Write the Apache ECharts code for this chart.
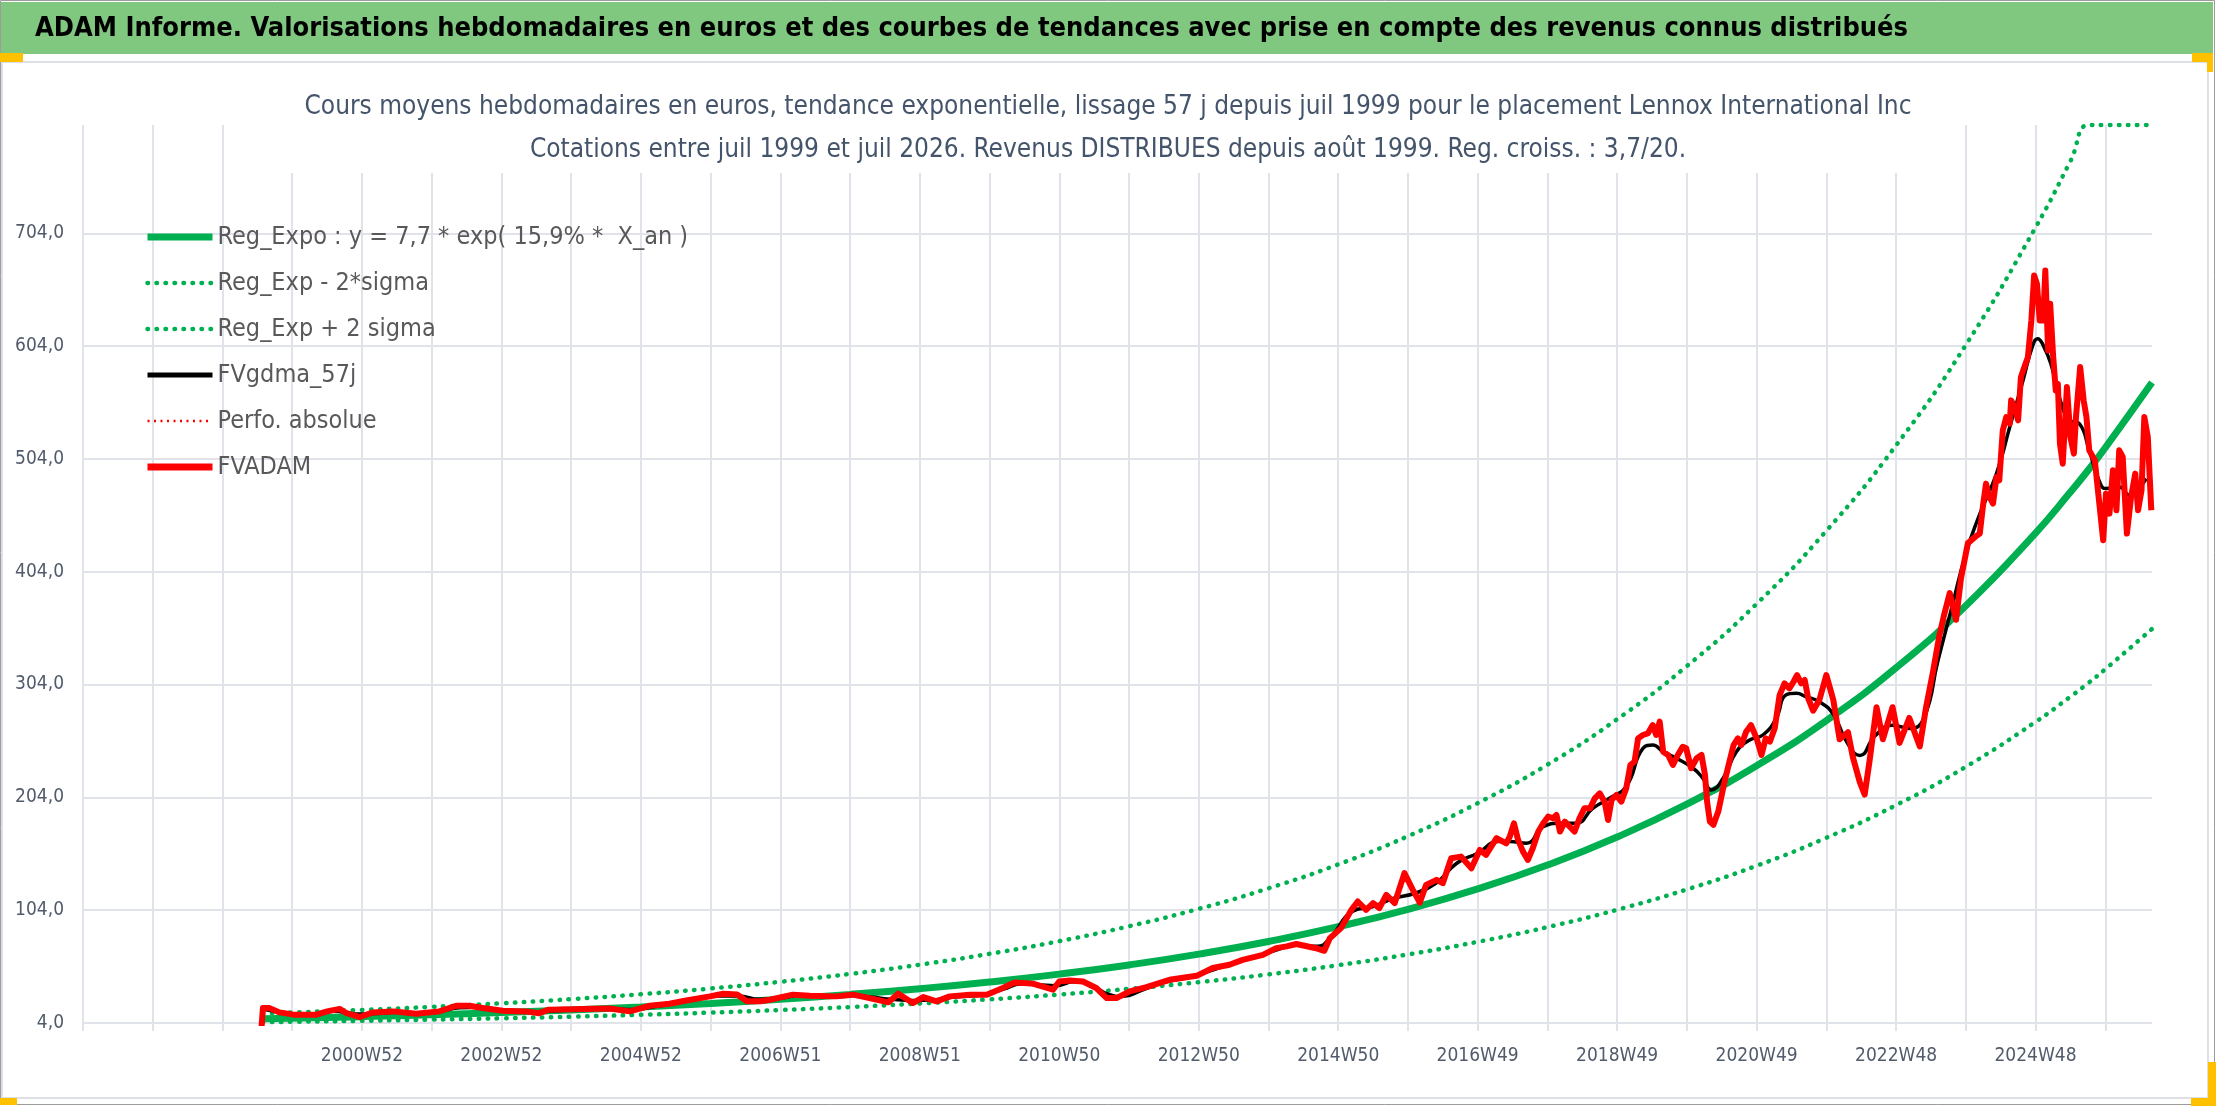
<!DOCTYPE html>
<html>
<head>
<meta charset="utf-8">
<title>ADAM Informe - Lennox International Inc</title>
<script src="https://cdn.jsdelivr.net/npm/echarts@6.0.0/dist/echarts.min.js"></script>
<style>
  html, body { margin: 0; padding: 0; background: #fff; }
  #chart { width: 2216px; height: 1106px; }
</style>
</head>
<body>
<div id="chart"></div>
<script>
var POLICE = "'Liberation Sans Narrow', 'Arial Narrow', 'DejaVu Sans Condensed', sans-serif";

// axe x en annees (une graduation = 52 semaines)
var xGridYears = [1997, 1998, 1999, 2000, 2001, 2002, 2003, 2004, 2005, 2006, 2007, 2008, 2009, 2010, 2011,
  2012, 2013, 2014, 2015, 2016, 2017, 2018, 2019, 2020, 2021, 2022, 2023, 2024, 2025, 2026];
var xLabelYears = [2001, 2003, 2005, 2007, 2009, 2011, 2013, 2015, 2017, 2019, 2021, 2023, 2025];
var xLabels = ['2000W52', '2002W52', '2004W52', '2006W51', '2008W51', '2010W50', '2012W50',
  '2014W50', '2016W49', '2018W49', '2020W49', '2022W48', '2024W48'];

var yTicks = [4, 104, 204, 304, 404, 504, 604, 704];
var yLabels = ['4,0', '104,0', '204,0', '304,0', '404,0', '504,0', '604,0', '704,0'];

// courbes de tendance
var trendYears = [1999.58, 2000, 2001, 2002, 2003, 2004, 2005, 2006, 2007, 2008, 2009, 2010, 2011, 2012,
  2013, 2014, 2015, 2016, 2017, 2018, 2019, 2020, 2021, 2022, 2023, 2024, 2025, 2025.5, 2025.76, 2026, 2026.67];
var regExpo = [7.7, 8.23, 9.65, 11.31, 13.26, 15.55, 18.23, 21.37, 25.05, 29.37, 34.43, 40.37, 47.32, 55.48,
  65.04, 76.25, 89.39, 104.8, 122.9, 144.0, 168.9, 198.0, 232.1, 272.1, 318.9, 373.9, 438.3, 474.6, 494.4, 513.9, 571.7];
var regLow = [4.76, 5.09, 5.96, 6.99, 8.19, 9.61, 11.27, 13.21, 15.48, 18.15, 21.28, 24.95, 29.24, 34.29,
  40.19, 47.12, 55.24, 64.77, 75.95, 88.99, 104.4, 122.4, 143.4, 168.2, 197.1, 231.1, 270.9, 293.3, 305.5, 317.6, 353.3];
var regHigh = [12.46, 13.32, 15.61, 18.30, 21.45, 25.16, 29.50, 34.58, 40.53, 47.52, 55.71, 65.32, 76.56, 89.77,
  105.2, 123.4, 144.6, 169.6, 198.9, 233.0, 273.3, 320.4, 375.5, 440.3, 516.0, 605.0, 709.2, 767.9, 800, 800, 800];

// FVADAM : [annee, cours]
var fvadam = [
  [1999.56, 0], [1999.58, 17.3], [1999.67, 17.3], [1999.82, 13.4], [2000.02, 11.4], [2000.35, 11.4], [2000.5, 14.3],
  [2000.68, 16.5], [2000.78, 12.7], [2000.97, 9.3], [2001.16, 13.4], [2001.45, 14.3], [2001.78, 12.2], [2002.11, 14.3],
  [2002.35, 19.3], [2002.54, 19.3], [2002.73, 17.3], [2003.02, 14.8], [2003.35, 14.3], [2003.54, 12.7], [2003.68, 15.8],
  [2004.16, 16.3], [2004.55, 16.9], [2004.84, 14.3], [2005.13, 19.3], [2005.41, 21.1], [2005.65, 24], [2005.99, 27.6],
  [2006.18, 29.9], [2006.38, 29.2], [2006.52, 23.3], [2006.71, 23.3], [2006.85, 24.6], [2007.18, 29.1], [2007.42, 28.2],
  [2007.8, 27.6], [2008.04, 29.1], [2008.28, 26.1], [2008.55, 22.3], [2008.69, 30], [2008.9, 21.7], [2009.05, 27],
  [2009.24, 23.2], [2009.43, 27.6], [2009.72, 29.1], [2009.96, 29.1], [2010.19, 35], [2010.36, 40], [2010.62, 38.9],
  [2010.91, 33.6], [2011.0, 40.8], [2011.15, 41.7], [2011.34, 40.8], [2011.53, 35], [2011.68, 26.1], [2011.82, 26.1],
  [2012.01, 32], [2012.25, 35.8], [2012.58, 42.3], [2012.97, 45.8], [2013.2, 52.7], [2013.44, 55.6], [2013.63, 60],
  [2013.92, 64.4], [2014.11, 70.4], [2014.26, 71.9], [2014.4, 74], [2014.55, 72], [2014.7, 70], [2014.8, 68],
  [2014.88, 79.2], [2015.04, 88.1], [2015.19, 104.3], [2015.28, 111.7], [2015.4, 104.3], [2015.5, 110.2], [2015.59, 105.8],
  [2015.69, 117.6], [2015.81, 110.2], [2015.95, 136.8], [2016.07, 122], [2016.17, 110.8], [2016.26, 126.4], [2016.41, 130.9],
  [2016.5, 127.9], [2016.62, 150], [2016.76, 151.5], [2016.91, 141.2], [2017.03, 157.4], [2017.12, 153], [2017.27, 167.8],
  [2017.41, 163.3], [2017.46, 169.2], [2017.52, 181], [2017.58, 166.3], [2017.65, 155.9], [2017.72, 148.6], [2017.79, 158.9],
  [2017.87, 173.7], [2017.94, 181], [2018.01, 186.9], [2018.08, 185.5], [2018.13, 188.4], [2018.18, 173.7], [2018.25, 182.5],
  [2018.32, 178.1], [2018.39, 173.7], [2018.46, 185.5], [2018.53, 194.3], [2018.61, 194.3], [2018.68, 203.2], [2018.75, 207.6],
  [2018.82, 200.2], [2018.87, 184], [2018.92, 201.7], [2018.99, 206.1], [2019.06, 200.2], [2019.13, 212], [2019.19, 232.7],
  [2019.25, 235.6], [2019.3, 256.3], [2019.37, 259.3], [2019.44, 260.7], [2019.51, 268.1], [2019.56, 259.3], [2019.61, 271.1],
  [2019.66, 244.5], [2019.73, 241.6], [2019.8, 232.7], [2019.87, 241.6], [2019.94, 248.9], [2019.99, 247.5], [2020.06, 229.8],
  [2020.14, 238.6], [2020.21, 241.6], [2020.26, 223.9], [2020.29, 200.2], [2020.33, 182.5], [2020.38, 179.6], [2020.45, 191.4],
  [2020.48, 200.2], [2020.54, 217.9], [2020.61, 235.6], [2020.67, 250.4], [2020.73, 256.3], [2020.78, 250.4], [2020.85, 262.2],
  [2020.92, 268.1], [2021.0, 256.3], [2021.07, 241.6], [2021.13, 256.3], [2021.19, 253.4], [2021.26, 265.2], [2021.33, 294.7],
  [2021.4, 305], [2021.47, 300.6], [2021.53, 306.5], [2021.58, 312.4], [2021.64, 305], [2021.69, 308], [2021.74, 291.7],
  [2021.81, 280.8], [2021.9, 290.3], [2022.0, 312.4], [2022.1, 290.3], [2022.19, 255.5], [2022.31, 261.8], [2022.38, 239.7],
  [2022.48, 217.5], [2022.55, 206.5], [2022.62, 236.5], [2022.72, 283.9], [2022.81, 255.5], [2022.95, 283.9], [2023.05, 252.3],
  [2023.19, 274.4], [2023.34, 249.1], [2023.43, 283.9], [2023.53, 315.6], [2023.62, 347.2], [2023.69, 366.2], [2023.77, 385.1],
  [2023.86, 361.4], [2023.93, 397.8], [2024.03, 429.4], [2024.15, 435.7], [2024.2, 437.8], [2024.25, 464.4], [2024.29, 482.1],
  [2024.34, 470.3], [2024.39, 464.4], [2024.44, 488], [2024.48, 485.1], [2024.53, 529.3], [2024.58, 541.1], [2024.63, 535.2],
  [2024.65, 555.9], [2024.7, 550], [2024.75, 538.2], [2024.79, 576.5], [2024.84, 585.4], [2024.89, 594.2], [2024.94, 626.7],
  [2024.98, 666.6], [2025.02, 659.2], [2025.06, 626.7], [2025.11, 626.7], [2025.14, 671], [2025.18, 600.2], [2025.21, 641.5],
  [2025.25, 597.2], [2025.29, 564.7], [2025.32, 570.6], [2025.35, 517.5], [2025.39, 499.8], [2025.45, 567.7], [2025.5, 523.4],
  [2025.55, 508.7], [2025.58, 541.1], [2025.64, 585.4], [2025.69, 555.9], [2025.73, 541.1], [2025.77, 511.6], [2025.85, 502.7],
  [2025.91, 467.3], [2025.97, 431.9], [2026.01, 473.2], [2026.06, 455.5], [2026.11, 493.9], [2026.16, 458.5], [2026.2, 511.6],
  [2026.25, 505.7], [2026.31, 437.8], [2026.37, 470.3], [2026.43, 491], [2026.47, 458.5], [2026.52, 476.2], [2026.56, 541.1],
  [2026.61, 523.4], [2026.66, 458.5]
];

// FVgdma_57j : [annee, moyenne lissee 57 j]
var fvgdma = [
  [1999.6, 16], [1999.8, 14], [2000.0, 12], [2000.3, 12], [2000.6, 14.5], [2000.9, 12], [2001.2, 12.5], [2001.5, 13.5],
  [2001.8, 13], [2002.1, 14], [2002.4, 17.5], [2002.7, 18], [2003.0, 15.5], [2003.4, 14], [2003.7, 14.5], [2004.0, 15.5],
  [2004.5, 16.5], [2004.9, 16], [2005.2, 18.5], [2005.5, 21.5], [2005.8, 25], [2006.1, 28], [2006.4, 28], [2006.7, 25],
  [2007.0, 26], [2007.3, 28.5], [2007.7, 28], [2008.0, 28.5], [2008.3, 27], [2008.6, 25], [2008.9, 24], [2009.2, 24.5],
  [2009.5, 27], [2009.9, 29], [2010.2, 34], [2010.45, 38.5], [2010.7, 38], [2010.95, 37], [2011.2, 40.5], [2011.45, 37.5],
  [2011.7, 29.5], [2011.9, 27.5], [2012.2, 33.5], [2012.5, 40], [2012.9, 45], [2013.2, 51], [2013.5, 57], [2013.8, 62.5],
  [2014.1, 68.5], [2014.4, 73], [2014.7, 72], [2014.9, 80.7], [2015.2, 102.8], [2015.5, 107.3], [2015.8, 114.6], [2016.1, 119],
  [2016.4, 127.9], [2016.7, 145.6], [2017.0, 154.5], [2017.3, 164.8], [2017.46, 164.8], [2017.7, 163.3], [2017.94, 178.1],
  [2018.18, 181], [2018.41, 181], [2018.65, 194.3], [2018.89, 203.2], [2019.13, 213.5], [2019.37, 247.5], [2019.51, 250.4],
  [2019.66, 244.5], [2019.85, 238.6], [2020.09, 229.8], [2020.23, 220.9], [2020.35, 210.6], [2020.52, 220.9], [2020.71, 244.5],
  [2020.9, 254.8], [2021.09, 259.3], [2021.28, 274], [2021.42, 294.7], [2021.57, 296.2], [2021.71, 293.2], [2021.9, 288.7],
  [2022.1, 277.6], [2022.3, 252.3], [2022.48, 241.2], [2022.7, 258.6], [2022.95, 268], [2023.2, 265], [2023.4, 274.4],
  [2023.6, 325], [2023.8, 372.5], [2024.0, 420], [2024.2, 455], [2024.44, 491], [2024.63, 532.3], [2024.82, 573.6],
  [2024.96, 604.6], [2025.03, 610.5], [2025.1, 606], [2025.22, 588.3], [2025.34, 558.8], [2025.49, 538.2], [2025.63, 535.2],
  [2025.77, 511.6], [2025.91, 485], [2026.01, 477.7], [2026.2, 479.1], [2026.35, 471.8], [2026.49, 479.1], [2026.59, 486.5]
];

function paires(xs, ys) {
  var out = [];
  for (var i = 0; i < xs.length; i++) out.push([xs[i], ys[i]]);
  return out;
}

var VERT = '#00B050';
var GRILLE = '#E0E3E9';
var POINTILLE = [0.5, 8.5];
var GRIS_AXE = '#515B6B';

var nomExpo = 'Reg_Expo : y = 7,7 * exp( 15,9% *  X_an )';

var option = {
  animation: false,
  backgroundColor: '#ffffff',
  graphic: [
    { type: 'rect', shape: { x: 0.5, y: 0.5, width: 2214, height: 1104 }, style: { fill: '#fff', stroke: '#9C9C9C', lineWidth: 1 } },
    { type: 'rect', shape: { x: 1, y: 2, width: 2212, height: 52 }, style: { fill: '#80C880' } },
    { type: 'rect', shape: { x: 2, y: 62, width: 2206, height: 1036 }, style: { fill: 'none', stroke: '#DDE0E6', lineWidth: 2 } },
    // poignees jaunes
    { type: 'rect', shape: { x: 0, y: 53, width: 23, height: 9 }, style: { fill: '#FFC000' } },
    { type: 'rect', shape: { x: 2192, y: 53, width: 21, height: 9 }, style: { fill: '#FFC000' } },
    { type: 'rect', shape: { x: 2207, y: 53, width: 6, height: 19 }, style: { fill: '#FFC000' } },
    { type: 'rect', shape: { x: 0, y: 1098, width: 17, height: 7 }, style: { fill: '#FFC000' } },
    { type: 'rect', shape: { x: 2191, y: 1098, width: 25, height: 8 }, style: { fill: '#FFC000' } },
    { type: 'rect', shape: { x: 2208, y: 1062, width: 8, height: 44 }, style: { fill: '#FFC000' } }
  ],
  title: [{
    text: 'ADAM Informe. Valorisations hebdomadaires en euros et des courbes de tendances avec prise en compte des revenus connus distribués',
    left: 35,
    top: 9,
    padding: 0,
    textStyle: { fontFamily: POLICE, fontSize: 27, fontWeight: 'bold', color: '#000', lineHeight: 40 }
  }, {
    text: 'Cours moyens hebdomadaires en euros, tendance exponentielle, lissage 57 j depuis juil 1999 pour le placement Lennox International Inc\n' +
      'Cotations entre juil 1999 et juil 2026. Revenus DISTRIBUES depuis août 1999. Reg. croiss. : 3,7/20.',
    left: 'center',
    top: 72,
    padding: [14, 29, 1, 29],
    backgroundColor: '#ffffff',
    textStyle: { fontFamily: POLICE, fontSize: 26, fontWeight: 'normal', color: '#44546A', lineHeight: 43 }
  }],
  legend: {
    orient: 'vertical',
    left: 144,
    top: 222,
    padding: 0,
    itemWidth: 65,
    itemHeight: 20,
    itemGap: 16,
    textStyle: { fontFamily: POLICE, fontSize: 25, color: '#595959', lineHeight: 30 },
    lineStyle: { width: 'inherit' },
    itemStyle: { opacity: 0 },
    data: [
      { name: nomExpo, lineStyle: { width: 7 } },
      { name: 'Reg_Exp - 2*sigma' },
      { name: 'Reg_Exp + 2 sigma' },
      { name: 'FVgdma_57j', lineStyle: { width: 5 } },
      { name: 'Perfo. absolue' },
      { name: 'FVADAM', lineStyle: { width: 7 } }
    ]
  },
  grid: { left: 83, right: 64, top: 125, bottom: 83 },
  xAxis: {
    type: 'value',
    min: 1997,
    max: 2026.67,
    axisLine: { show: false },
    axisTick: { show: true, length: 8, customValues: xGridYears, lineStyle: { color: GRILLE, width: 2 } },
    splitLine: { show: true, lineStyle: { color: GRILLE, width: 2 } },
    axisLabel: {
      customValues: xLabelYears,
      margin: 24,
      fontFamily: POLICE,
      fontSize: 19,
      color: GRIS_AXE,
      formatter: function (v) {
        var i = xLabelYears.indexOf(Math.round(v));
        return i >= 0 ? xLabels[i] : '';
      }
    }
  },
  yAxis: {
    type: 'value',
    min: 4,
    max: 800,
    axisLine: { show: false },
    axisTick: { show: false, customValues: yTicks },
    splitLine: { show: true, lineStyle: { color: GRILLE, width: 2 } },
    axisLabel: {
      customValues: yTicks,
      margin: 19,
      fontFamily: POLICE,
      fontSize: 19,
      color: GRIS_AXE,
      formatter: function (v) {
        var i = yTicks.indexOf(Math.round(v));
        return i >= 0 ? yLabels[i] : '';
      }
    }
  },
  series: [{
    name: nomExpo,
    type: 'line',
    symbol: 'none',
    smooth: true,
    data: paires(trendYears, regExpo),
    lineStyle: { color: VERT, width: 7 },
    itemStyle: { color: VERT }
  }, {
    name: 'Reg_Exp - 2*sigma',
    type: 'line',
    symbol: 'none',
    smooth: true,
    data: paires(trendYears, regLow),
    lineStyle: { color: VERT, width: 4.5, type: POINTILLE, cap: 'round' },
    itemStyle: { color: VERT }
  }, {
    name: 'Reg_Exp + 2 sigma',
    type: 'line',
    symbol: 'none',
    smooth: true,
    data: paires(trendYears, regHigh),
    lineStyle: { color: VERT, width: 4.5, type: POINTILLE, cap: 'round' },
    itemStyle: { color: VERT }
  }, {
    name: 'FVgdma_57j',
    type: 'line',
    symbol: 'none',
    smooth: true,
    data: fvgdma,
    lineStyle: { color: '#000000', width: 3.5 },
    itemStyle: { color: '#000000' }
  }, {
    name: 'Perfo. absolue',
    type: 'line',
    symbol: 'none',
    data: [],
    lineStyle: { color: '#FF0000', width: 2.5, type: [2, 4.5] },
    itemStyle: { color: '#FF0000' }
  }, {
    name: 'FVADAM',
    type: 'line',
    symbol: 'none',
    data: fvadam,
    lineStyle: { color: '#FF0000', width: 6, join: 'round' },
    itemStyle: { color: '#FF0000' }
  }]
};

var myChart = echarts.init(document.getElementById('chart'));
myChart.setOption(option);
</script>
</body>
</html>
